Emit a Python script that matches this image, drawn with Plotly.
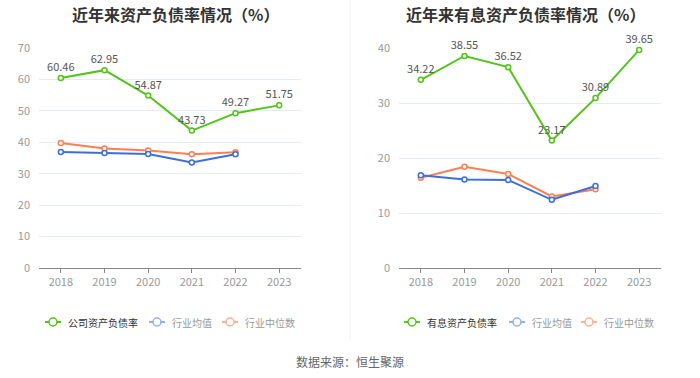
import plotly.graph_objects as go

years = ["2018", "2019", "2020", "2021", "2022", "2023"]
company_debt = [60.46, 62.95, 54.87, 43.73, 49.27, 51.75]
industry_avg_debt = [36.9, 36.6, 36.3, 33.6, 36.2]
industry_med_debt = [39.8, 38.0, 37.4, 36.2, 36.8]

interest_debt = [34.22, 38.55, 36.52, 23.17, 30.89, 39.65]
industry_avg_int = [16.85, 16.1, 16.0, 12.4, 14.9]
industry_med_int = [16.4, 18.4, 17.1, 13.0, 14.3]

legend_left = ["公司资产负债率", "行业均值", "行业中位数"]
legend_right = ["有息资产负债率", "行业均值", "行业中位数"]

GREEN = "#52c41a"
BLUE = "#3a6fe0"
ORANGE = "#ff7f50"
BLUE_L = "#8fb0f0"
ORANGE_L = "#ffaf94"
FONT = "Noto Sans CJK SC"
W, H = 700, 378

fig = go.Figure()

def marker(c):
    return dict(symbol="circle", size=5, color="white", line=dict(color=c, width=1.5))

def add_panel(xa, ya, main_vals, avg_vals, med_vals):
    fig.add_trace(go.Scatter(x=years[:len(med_vals)], y=med_vals, mode="lines+markers",
                             line=dict(color=ORANGE, width=2), marker=marker(ORANGE),
                             xaxis=xa, yaxis=ya, showlegend=False, cliponaxis=False))
    fig.add_trace(go.Scatter(x=years[:len(avg_vals)], y=avg_vals, mode="lines+markers",
                             line=dict(color=BLUE, width=2), marker=marker(BLUE),
                             xaxis=xa, yaxis=ya, showlegend=False, cliponaxis=False))
    fig.add_trace(go.Scatter(x=years, y=main_vals, mode="lines+markers+text",
                             text=[f"{v:.2f}" for v in main_vals], textposition="top center",
                             textfont=dict(size=11, color="#555", family=FONT),
                             line=dict(color=GREEN, width=2), marker=marker(GREEN),
                             xaxis=xa, yaxis=ya, showlegend=False, cliponaxis=False))

add_panel("x", "y", company_debt, industry_avg_debt, industry_med_debt)
add_panel("x2", "y2", interest_debt, industry_avg_int, industry_med_int)

shapes = [dict(type="line", xref="paper", yref="paper", x0=0.5, x1=0.5, y0=1-340/H, y1=1,
               line=dict(color="#f0f0f0", width=1))]
annotations = [
    dict(text="<b>近年来资产负债率情况（%）</b>", x=175/W, y=1-14/H, xref="paper", yref="paper",
         showarrow=False, font=dict(size=16, color="#333", family=FONT), xanchor="center", yanchor="middle"),
    dict(text="<b>近年来有息资产负债率情况（%）</b>", x=525/W, y=1-14/H, xref="paper", yref="paper",
         showarrow=False, font=dict(size=16, color="#333", family=FONT), xanchor="center", yanchor="middle"),
    dict(text="数据来源：恒生聚源", x=0.5, y=1-361/H, xref="paper", yref="paper",
         showarrow=False, font=dict(size=12, color="#666", family=FONT), xanchor="center", yanchor="middle"),
]

# manual legends (icon center x in px)
ly = 1 - 322/H
def add_legend(names, centers):
    cols = [(GREEN, "#333"), (BLUE_L, "#999"), (ORANGE_L, "#999")]
    for nm, cx, (ic, tc) in zip(names, centers, cols):
        shapes.append(dict(type="line", xref="paper", yref="paper", x0=(cx-8)/W, x1=(cx+8)/W,
                           y0=ly, y1=ly, line=dict(color=ic, width=2)))
        shapes.append(dict(type="circle", xref="paper", yref="paper", xsizemode="pixel", ysizemode="pixel",
                           xanchor=cx/W, yanchor=ly, x0=-4, x1=4, y0=-4, y1=4,
                           fillcolor="white", line=dict(color=ic, width=1.5)))
        annotations.append(dict(text=nm, x=(cx+13)/W, y=ly, xref="paper", yref="paper", showarrow=False,
                                xanchor="left", yanchor="middle",
                                font=dict(size=10, color=tc, family=FONT)))

add_legend(legend_left, [53, 157, 230])
add_legend(legend_right, [412, 517, 589])

axis_x = dict(type="category", range=[-0.5, 5.5], showgrid=False, showline=True, automargin=False,
              linecolor="#888", linewidth=1, ticks="outside", ticklen=4, tickcolor="#888", tickwidth=1,
              tickfont=dict(size=11, color="#999", family=FONT), fixedrange=True)
axis_y = dict(showgrid=True, gridcolor="#e6ebf5", gridwidth=1, zeroline=False, showline=False, automargin=False,
              tickfont=dict(size=11, color="#999", family=FONT), ticks="", ticklabelstandoff=8)

ydom = [1-268/H, 1-48/H]
fig.update_layout(
    width=W, height=H,
    margin=dict(l=0, r=0, t=0, b=0),
    paper_bgcolor="white", plot_bgcolor="white",
    font=dict(family=FONT),
    showlegend=False,
    hovermode=False,
    xaxis=dict(axis_x, domain=[39/W, 301/W], anchor="y"),
    yaxis=dict(axis_y, domain=ydom, range=[0, 70], dtick=10, anchor="x"),
    xaxis2=dict(axis_x, domain=[399/W, 661/W], anchor="y2"),
    yaxis2=dict(axis_y, domain=ydom, range=[0, 40], dtick=10, anchor="x2"),
    annotations=annotations,
    shapes=shapes,
)

fig.write_html("out.html", config={"displayModeBar": False},
               post_script="document.body.style.margin='0';document.body.style.overflow='hidden';")
